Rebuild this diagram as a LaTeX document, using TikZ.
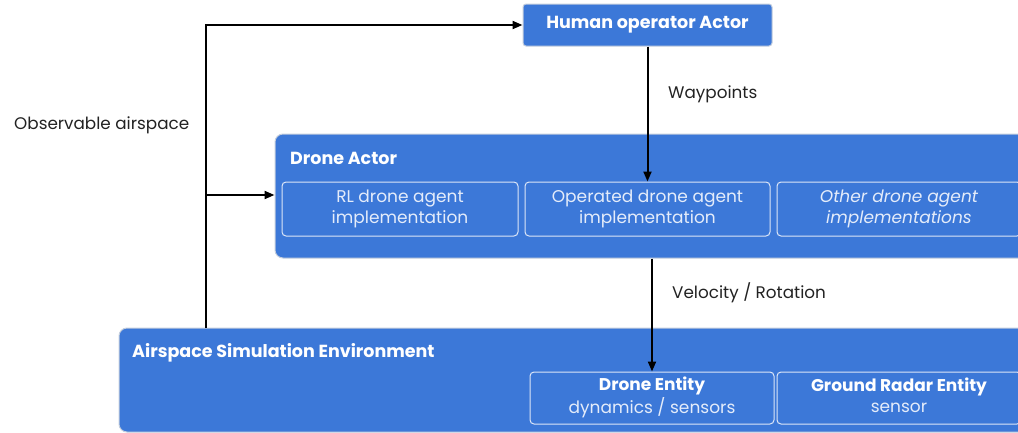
\documentclass[tikz,border=0pt]{standalone}
\usepackage{fontspec}
\setmainfont{Poppins}
\usetikzlibrary{arrows.meta}
\definecolor{boxblue}{HTML}{3C78D8}
\definecolor{edgegray}{HTML}{C4CEDD}
\definecolor{inneredge}{HTML}{DCE6F7}
\definecolor{innertext}{HTML}{E4ECFA}
\definecolor{labelgray}{HTML}{222222}
\tikzset{
  container/.style={draw=edgegray, line width=1pt, fill=boxblue, rounded corners=8pt, inner sep=0pt},
  actorbox/.style={draw=edgegray, line width=1pt, fill=boxblue, rounded corners=3pt, text=white,
    font=\fontsize{17.5}{20}\selectfont\bfseries, inner sep=0pt},
  title/.style={text=white, font=\fontsize{17.5}{20}\selectfont\bfseries, anchor=west, inner sep=0pt},
  subbox/.style={draw=inneredge, line width=1pt, rounded corners=4pt, text=innertext,
    font=\fontsize{17}{21}\selectfont, align=center, inner sep=0pt},
  flow/.style={line width=2pt, draw=black, -{Triangle[length=10pt,width=8pt]}},
  flowlabel/.style={text=labelgray, font=\fontsize{16.8}{20}\selectfont, anchor=west, inner sep=0pt}
}
\begin{document}
\begin{tikzpicture}[x=1pt, y=-1pt]
\useasboundingbox (0,0) rectangle (1018,432);
\clip (0,0) rectangle (1018,432);

% human operator
\node[actorbox, minimum width=249pt, minimum height=42pt] (human) at (647.5,25) {Human operator Actor};

% drone actor with its agent implementations
\node[container, minimum width=753pt, minimum height=124pt] (droneactor) at (651.5,196) {};
\node[title] (droneactortitle) at (290,158) {Drone Actor};
\node[subbox, minimum width=236pt, minimum height=54pt] (rl) at (400,209) {\strut RL drone agent\\\strut implementation};
\node[subbox, minimum width=245pt, minimum height=54pt] (operated) at (647.5,209) {\strut Operated drone agent\\\strut implementation};
\node[subbox, minimum width=244pt, minimum height=54pt, font=\fontsize{17}{21}\selectfont\itshape] (other) at (899,209) {\strut Other drone agent\\\strut implementations};

% simulation environment with its entities
\node[container, minimum width=909pt, minimum height=104pt] (airspace) at (573.5,380) {};
\node[title] (airspacetitle) at (132,353) {Airspace Simulation Environment};
\node[subbox, minimum width=244pt, minimum height=52pt] (droneentity) at (652,398)
  {\strut{\color{white}\bfseries Drone Entity}\\\strut dynamics / sensors};
\node[subbox, minimum width=244pt, minimum height=52pt] (radar) at (899,398)
  {\strut{\color{white}\bfseries Ground Radar Entity}\\\strut sensor};

% observation feedback loop
\coordinate (obsstart) at (206,328);
\coordinate (branch) at (206,195);
\draw[flow] (obsstart) |- (human.west);
\draw[flow] (branch) -- (droneactor.west |- branch);
\node[flowlabel] (obslabel) at (14,125) {Observable airspace};

% commands
\draw[flow] (human.south) -- (operated.north);
\node[flowlabel] (waylabel) at (668,94) {Waypoints};
\draw[flow] (droneactor.south -| droneentity.north) -- (droneentity.north);
\node[flowlabel] (vellabel) at (672,293) {Velocity / Rotation};
\end{tikzpicture}
\end{document}
